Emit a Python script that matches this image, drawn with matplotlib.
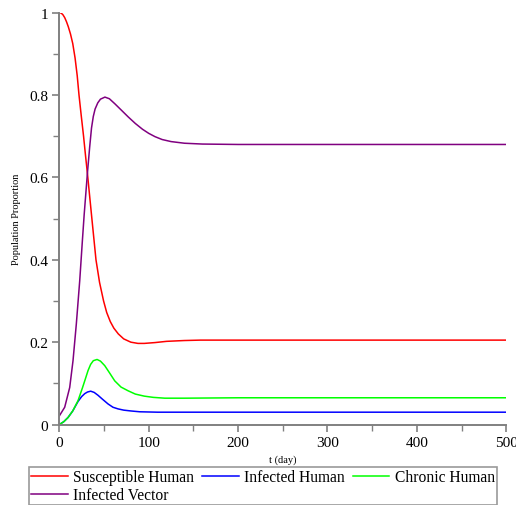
"""
Host-vector model simulation: population proportions over time.
"""

import matplotlib
matplotlib.use('Agg')
import matplotlib.pyplot as plt
from matplotlib.ticker import MultipleLocator

# Values
t_sus = [0, 2, 4, 6, 8, 10, 12.5, 15, 17.6, 20, 22, 24.5, 27.1, 29.2, 31.4, 33.9, 36.4, 38.7, 41, 45,
         49.5, 53, 57, 61, 66, 72, 80, 88, 95, 107, 120, 140, 158, 213, 300, 400, 500]
susceptible = [1.0, 0.999, 0.995, 0.988, 0.978, 0.966, 0.948, 0.925, 0.89, 0.847, 0.8, 0.75, 0.7,
               0.655, 0.61, 0.555, 0.5, 0.45, 0.4, 0.345, 0.3, 0.272, 0.25, 0.234, 0.22, 0.208,
               0.2, 0.197, 0.197, 0.199, 0.202, 0.204, 0.205, 0.205, 0.205, 0.205, 0.205]

t_inf = [0, 5, 9.7, 15, 20.9, 25, 28.4, 31.5, 35.1, 39, 43.3, 48, 54.5, 60, 65.7, 72, 80, 90, 110,
         200, 300, 400, 500]
infected = [0.0, 0.007, 0.017, 0.033, 0.056, 0.068, 0.075, 0.079, 0.081, 0.078, 0.071, 0.062,
            0.05, 0.042, 0.038, 0.035, 0.033, 0.031, 0.030, 0.030, 0.030, 0.030, 0.030]

t_chr = [0, 5, 9.7, 15, 20.9, 26, 29, 32.1, 35, 38, 42.2, 46, 50.8, 56, 62, 69, 76.9, 85, 95, 105,
         118, 140, 200, 300, 400, 500]
chronic = [0.0, 0.007, 0.017, 0.033, 0.058, 0.09, 0.11, 0.131, 0.146, 0.155, 0.158, 0.154, 0.143,
           0.126, 0.106, 0.091, 0.082, 0.074, 0.069, 0.066, 0.064, 0.064, 0.065, 0.065, 0.065, 0.065]

t_vec = [0, 6, 11.6, 15.3, 19, 22.8, 25.8, 27.8, 31.4, 34, 36, 38, 40, 43, 46, 51, 56, 62, 70, 77,
         85, 93, 100, 107, 115, 125, 140, 160, 200, 300, 400, 500]
vector = [0.021, 0.042, 0.09, 0.155, 0.244, 0.349, 0.447, 0.51, 0.61, 0.675, 0.72, 0.748, 0.766,
          0.781, 0.79, 0.795, 0.791, 0.779, 0.762, 0.747, 0.731, 0.717, 0.707, 0.699, 0.692,
          0.687, 0.683, 0.681, 0.680, 0.680, 0.680, 0.680]

labels = ['Susceptible Human', 'Infected Human', 'Chronic Human', 'Infected Vector']
colors = ['#ff0000', '#0000ff', '#00ff00', '#800080']

plt.rcParams['font.family'] = ['Liberation Serif', 'DejaVu Serif']

fig = plt.figure(figsize=(5.16, 5.06), dpi=100)
ax = fig.add_axes([0.115, 0.159, 0.866, 0.814])

series = [(t_sus, susceptible), (t_inf, infected), (t_chr, chronic), (t_vec, vector)]
handles = []
for (t, y), lab, col in zip(series, labels, colors):
    h, = ax.plot(t, y, color=col, linewidth=1.1, label=lab)
    handles.append(h)

ax.set_xlim(0, 500)
ax.set_ylim(0, 1)
ax.xaxis.set_major_locator(MultipleLocator(100))
ax.xaxis.set_minor_locator(MultipleLocator(50))
ax.yaxis.set_minor_locator(MultipleLocator(0.1))
ax.set_yticks([0, 0.2, 0.4, 0.6, 0.8, 1.0])
ax.set_yticklabels(['0', '0.2', '0.4', '0.6', '0.8', '1'])

for side in ['top', 'right']:
    ax.spines[side].set_visible(False)
for side in ['left', 'bottom']:
    ax.spines[side].set_color('#808080')
    ax.spines[side].set_linewidth(1.4)

ax.tick_params(which='major', length=5, width=1.2, color='#808080', labelsize=11, pad=3)
ax.tick_params(which='minor', length=4, width=1.0, color='#808080')

ax.set_xlabel('t (day)', fontsize=7.5, labelpad=4)
ax.set_ylabel('Population Proportion', fontsize=7.5, labelpad=6)

# reorder so that the legend reads row by row
order = [0, 3, 1, 2]
leg = fig.legend([handles[i] for i in order], [labels[i] for i in order],
                 ncol=3, loc='center', bbox_to_anchor=(0.51, 0.037),
                 fontsize=11.2, frameon=True, fancybox=False,
                 handlelength=2.35, handletextpad=0.37, columnspacing=0.5,
                 labelspacing=0.12, borderpad=0.12, borderaxespad=0)
leg.get_frame().set_edgecolor('#808080')
leg.get_frame().set_linewidth(1.2)

fig.savefig('out.png', dpi=100)
